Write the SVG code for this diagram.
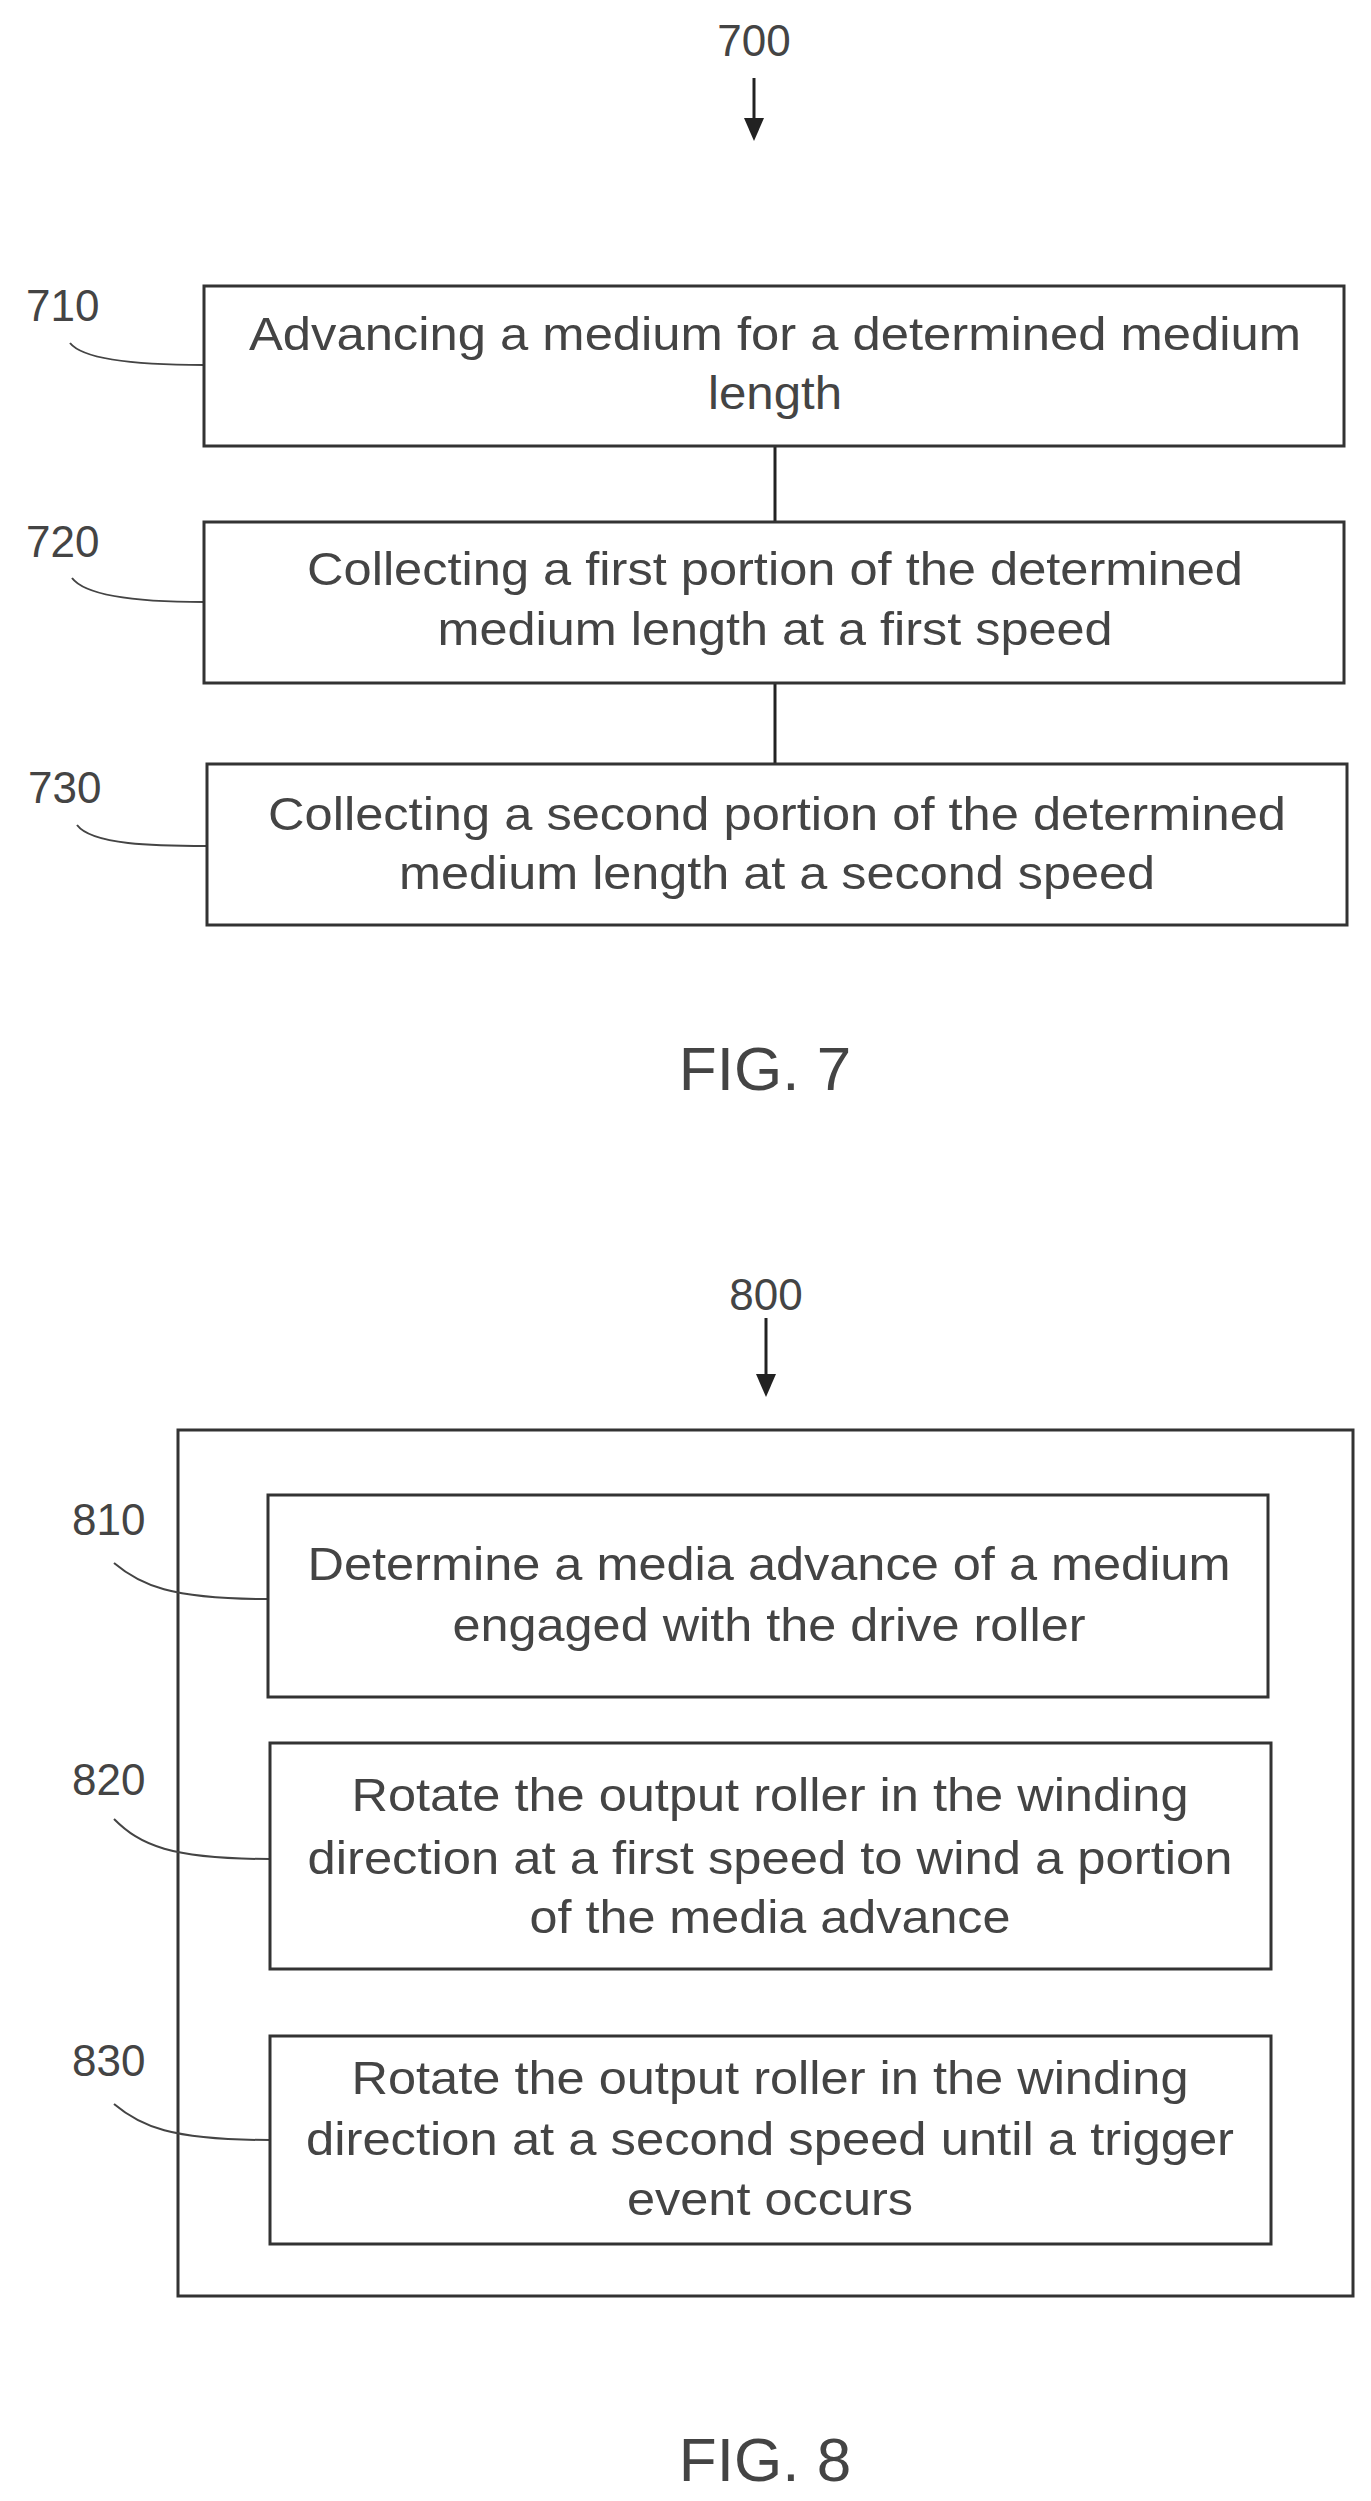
<svg xmlns="http://www.w3.org/2000/svg" width="1371" height="2501" viewBox="0 0 1371 2501">
<style>
.b{fill:#fff;stroke:#333;stroke-width:3}
.o{fill:none;stroke:#333;stroke-width:3}
.t{font-family:"Liberation Sans",Arial,sans-serif;font-size:46px;fill:#444;text-anchor:middle}
.l{font-family:"Liberation Sans",Arial,sans-serif;font-size:44px;fill:#444}
.f{font-family:"Liberation Sans",Arial,sans-serif;font-size:62px;fill:#444;text-anchor:middle}
.c{fill:none;stroke:#444;stroke-width:2}
.k{stroke:#222;stroke-width:3}
</style>
<rect width="1371" height="2501" fill="#fff"/>
<g id="n800"><rect class="o" x="178" y="1430" width="1175" height="866"/></g>
<g id="connectors">
<line class="k" x1="754" y1="78" x2="754" y2="128"/><path d="M744,118 L764,118 L754,141 z" fill="#222"/>
<line class="k" x1="775" y1="446" x2="775" y2="522"/>
<line class="k" x1="775" y1="683" x2="775" y2="764"/>
<line class="k" x1="766" y1="1318" x2="766" y2="1384"/><path d="M756,1374 L776,1374 L766,1397 z" fill="#222"/>
<path class="c" d="M70,343 C85,362 150,365 204,365"/>
<path class="c" d="M72,578 C87,598 150,602 204,602"/>
<path class="c" d="M77,825 C92,845 155,846 207,846"/>
<path class="c" d="M114,1563 C140,1585 170,1599 268,1599"/>
<path class="c" d="M114,1819 C140,1845 170,1859 270,1859"/>
<path class="c" d="M114,2104 C140,2126 170,2140 270,2140"/>
</g>
<text class="l" x="754" y="56" text-anchor="middle">700</text>
<g id="n710"><rect class="b" x="204" y="286" width="1140" height="160"/>
<text class="t" x="775" y="350" textLength="1052" lengthAdjust="spacingAndGlyphs">Advancing a medium for a determined medium</text>
<text class="t" x="775" y="409" textLength="134" lengthAdjust="spacingAndGlyphs">length</text>
<text class="l" x="26" y="321">710</text></g>
<g id="n720"><rect class="b" x="204" y="522" width="1140" height="161"/>
<text class="t" x="775" y="585" textLength="936" lengthAdjust="spacingAndGlyphs">Collecting a first portion of the determined</text>
<text class="t" x="775" y="645" textLength="675" lengthAdjust="spacingAndGlyphs">medium length at a first speed</text>
<text class="l" x="26" y="557">720</text></g>
<g id="n730"><rect class="b" x="207" y="764" width="1140" height="161"/>
<text class="t" x="777" y="830" textLength="1018" lengthAdjust="spacingAndGlyphs">Collecting a second portion of the determined</text>
<text class="t" x="777" y="889" textLength="756" lengthAdjust="spacingAndGlyphs">medium length at a second speed</text>
<text class="l" x="28" y="803">730</text></g>
<text class="f" x="765" y="1090">FIG. 7</text>
<text class="l" x="766" y="1310" text-anchor="middle">800</text>
<g id="n810"><rect class="b" x="268" y="1495" width="1000" height="202"/>
<text class="t" x="769" y="1580" textLength="923" lengthAdjust="spacingAndGlyphs">Determine a media advance of a medium</text>
<text class="t" x="769" y="1641" textLength="633" lengthAdjust="spacingAndGlyphs">engaged with the drive roller</text>
<text class="l" x="72" y="1535">810</text></g>
<g id="n820"><rect class="b" x="270" y="1743" width="1001" height="226"/>
<text class="t" x="770" y="1811" textLength="837" lengthAdjust="spacingAndGlyphs">Rotate the output roller in the winding</text>
<text class="t" x="770" y="1874" textLength="925" lengthAdjust="spacingAndGlyphs">direction at a first speed to wind a portion</text>
<text class="t" x="770" y="1933" textLength="481" lengthAdjust="spacingAndGlyphs">of the media advance</text>
<text class="l" x="72" y="1795">820</text></g>
<g id="n830"><rect class="b" x="270" y="2036" width="1001" height="208"/>
<text class="t" x="770" y="2094" textLength="837" lengthAdjust="spacingAndGlyphs">Rotate the output roller in the winding</text>
<text class="t" x="770" y="2155" textLength="928" lengthAdjust="spacingAndGlyphs">direction at a second speed until a trigger</text>
<text class="t" x="770" y="2215" textLength="286" lengthAdjust="spacingAndGlyphs">event occurs</text>
<text class="l" x="72" y="2076">830</text></g>
<text class="f" x="765" y="2481">FIG. 8</text>
</svg>
